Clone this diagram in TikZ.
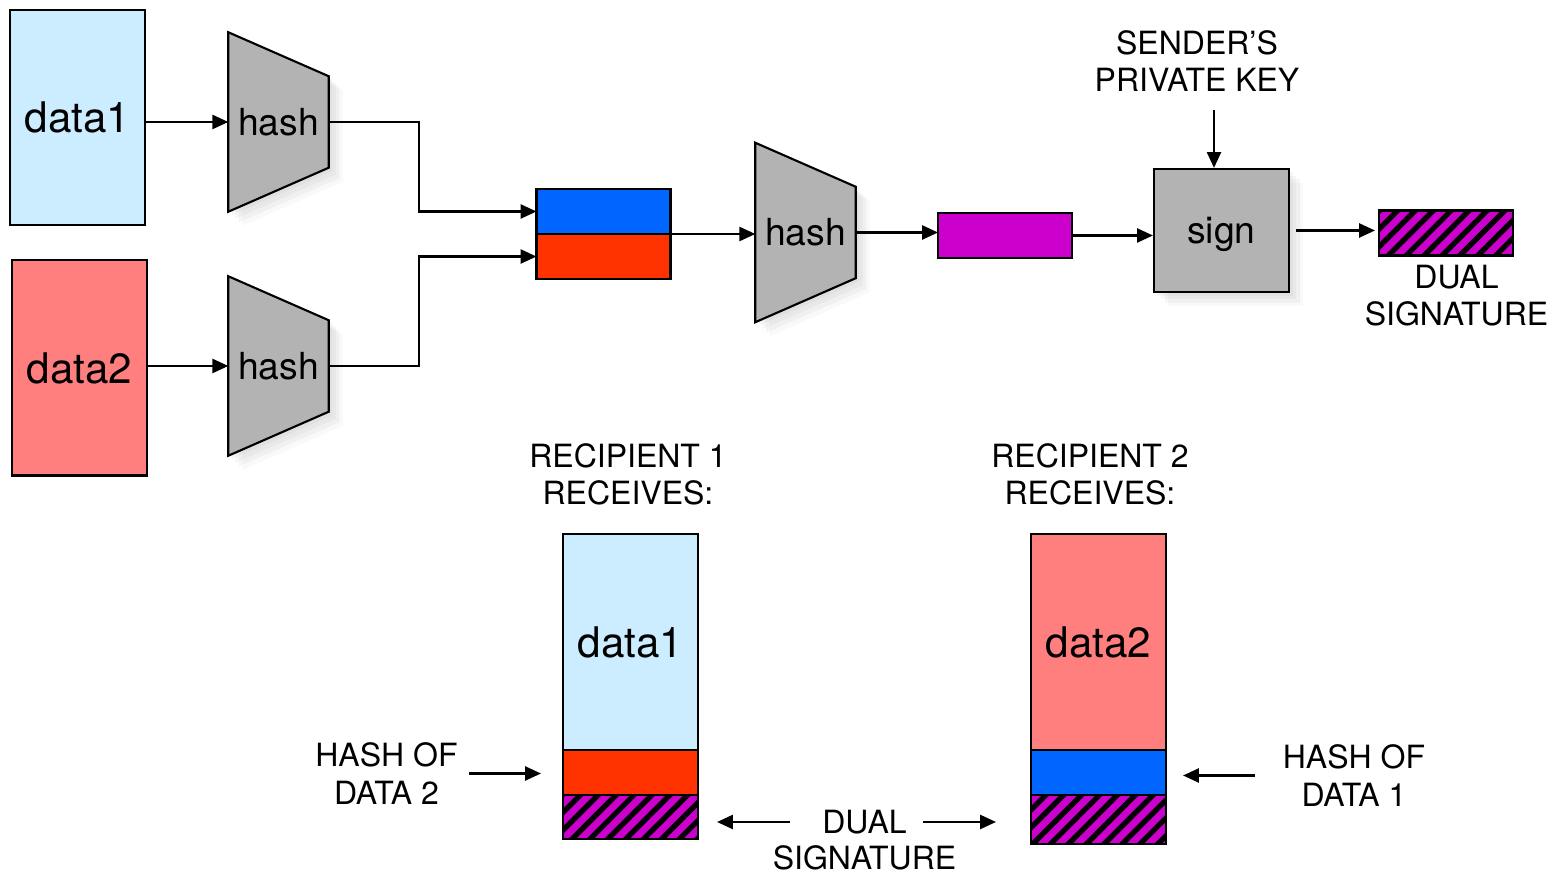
\documentclass[tikz,border=0pt]{standalone}
\usepackage{fontspec}
\setmainfont{TeX Gyre Heros}
\usetikzlibrary{positioning,arrows.meta,shadows,patterns.meta,backgrounds}
\definecolor{paleblue}{HTML}{CCECFF}
\definecolor{salmon}{HTML}{FF7F7F}
\definecolor{hashblue}{HTML}{0066FF}
\definecolor{hashred}{HTML}{FF3300}
\definecolor{sigpurple}{HTML}{CC00CC}
\definecolor{boxgray}{HTML}{B3B3B3}
\begin{document}
\begin{tikzpicture}[x=0.01cm,y=-0.01cm,
  lbl/.style={align=center,font=\fontsize{9.1}{10.6}\selectfont,inner sep=0.05cm},
  databox/.style={draw,line width=0.6pt,outer sep=0pt,minimum width=1.35cm,minimum height=2.15cm,inner sep=0pt,font=\fontsize{12}{14}\selectfont},
  strip/.style={draw,line width=0.6pt,outer sep=0pt,minimum width=1.34cm,minimum height=0.45cm,inner sep=0pt},
  hatchbox/.style={strip,fill=sigpurple,postaction={pattern={Lines[angle=45,distance=3.6pt,line width=1.5pt]},pattern color=black},postaction={draw,line width=0.6pt}},
  hashbox/.style={minimum width=0.99cm,minimum height=1.78cm,inner sep=0pt,font=\fontsize{10.6}{12}\selectfont},
  shade/.style={drop shadow={opacity=0.07,shadow xshift=1pt,shadow yshift=-1pt},
                drop shadow={opacity=0.07,shadow xshift=2pt,shadow yshift=-2pt},
                drop shadow={opacity=0.07,shadow xshift=3pt,shadow yshift=-3pt},
                drop shadow={opacity=0.05,shadow xshift=4pt,shadow yshift=-4pt}},
  arr/.style={line width=0.6pt,-{Triangle[length=4.5pt,width=4pt]}}]
\useasboundingbox (0,0) rectangle (1557,874);

\node[databox,fill=paleblue] (data1) at (77.5,117.5) {data1};
\node[databox,fill=salmon] (data2) at (79.5,368) {data2};
\node[hashbox] (h1) at (278.5,122) {hash};
\node[hashbox] (h2) at (278.5,366) {hash};
\node[hashbox] (h3) at (805.5,232.5) {hash};
\begin{scope}[on background layer]
\foreach \h in {h1,h2,h3}
  \draw[line width=0.6pt,fill=boxgray,shade] (\h.north west) -- ([yshift=-0.44cm]\h.north east)
    -- ([yshift=0.44cm]\h.south east) -- (\h.south west) -- cycle;
\end{scope}

\node[strip,fill=hashblue] (cblue) at (603.5,211.5) {};
\node[strip,fill=hashred,below=0pt of cblue] (cred) {};
\node[strip,fill=sigpurple] (dig) at (1005,235.5) {};
\node[draw,line width=0.6pt,fill=boxgray,shade,minimum width=1.35cm,minimum height=1.23cm,
  text depth=0pt,font=\fontsize{10.6}{12}\selectfont] (sign) at (1221.5,230.5) {sign};
\node[lbl] (key) at (1197,61) {SENDER'S\\PRIVATE KEY};
\node[hatchbox] (ds) at (1446,233) {};
\node[lbl] (dstxt) at (1456.5,295.5) {DUAL\\SIGNATURE};

\node[lbl] (rec1) at (628,474.5) {RECIPIENT 1\\RECEIVES:};
\node[lbl] (rec2) at (1090,474.5) {RECIPIENT 2\\RECEIVES:};
\node[databox,fill=paleblue,minimum height=2.16cm] (r1data) at (630.5,642) {data1};
\node[strip,fill=hashred,minimum width=1.35cm,below=0pt of r1data] (r1hash) {};
\node[hatchbox,minimum width=1.35cm,minimum height=0.44cm,below=0pt of r1hash] (r1sig) {};
\node[databox,fill=salmon,minimum height=2.16cm] (r2data) at (1098.5,642) {data2};
\node[strip,fill=hashblue,minimum width=1.35cm,below=0pt of r2data] (r2hash) {};
\node[hatchbox,minimum width=1.35cm,minimum height=0.49cm,below=0pt of r2hash] (r2sig) {};
\node[lbl] (hd2) at (386.5,773.5) {HASH OF\\DATA 2};
\node[lbl] (hd1) at (1354,775.5) {HASH OF\\DATA 1};
\node[lbl] (dual) at (864.5,822) {DUAL};
\node[lbl,inner sep=0.02cm] (sigword) at (864.5,858) {SIGNATURE};

\draw[arr] (data1.east |- h1.west) -- (h1.west);
\draw[arr] (data2.east |- h2.west) -- (h2.west);
\draw[arr] (h1.east) -- ++(90,0) |- (cblue.west);
\draw[arr] (h2.east) -- ++(90,0) |- (cred.west);
\draw[arr] (cblue.south east) -- (cblue.south east -| h3.west);
\draw[arr] (h3.east) -- (h3.east -| dig.west);
\draw[arr] (dig.east) -- (dig.east -| sign.west);
\draw[arr,shorten <=0.06cm,shorten >=0.04cm] (sign.east) -- (sign.east -| ds.west);
\coordinate (keyarr) at (1214,110);
\draw[arr] (keyarr) -- (keyarr |- sign.north);
\draw[arr,shorten <=0.06cm,shorten >=0.22cm] (hd2.east) -- (hd2.east -| r1hash.west);
\draw[arr,shorten <=0.22cm,shorten >=0.17cm] (hd1.west) -- (hd1.west -| r2hash.east);
\draw[arr,shorten <=0.27cm,shorten >=0.19cm] (dual.west) -- (dual.west -| r1sig.east);
\draw[arr,shorten <=0.11cm,shorten >=0.35cm] (dual.east) -- (dual.east -| r2sig.west);
\end{tikzpicture}
\end{document}
